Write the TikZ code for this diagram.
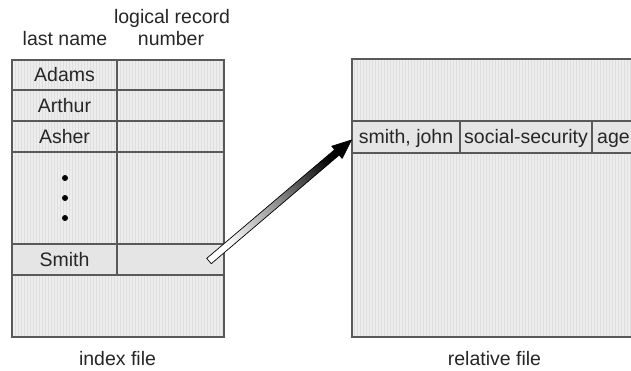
\documentclass[tikz,border=0pt]{standalone}
\usepackage{fontspec}
\setmainfont{Liberation Sans}
\usetikzlibrary{calc,patterns}
\begin{document}
\begin{tikzpicture}[x=1pt,y=-1pt,
  txt/.style={font=\fontsize{19.5}{22}\selectfont, text=black!85, inner sep=0pt},
  cell/.style={txt, draw=black!65, line width=1.1pt, inner sep=0pt,
    text height=13.5pt, text depth=0pt,
    preaction={fill=black!7}, pattern=vertical lines, pattern color=black!13},
  plaincell/.style={cell, pattern=none, fill=black!10},
  dot/.style={circle, fill=black, inner sep=0pt, minimum size=6pt},
  arrowbody/.style={draw=black, line width=0.7pt, top color=black, bottom color=white, middle color=black!45, shading angle=-50}
]
\useasboundingbox (0,0) rectangle (631,370);
\clip (0,0) rectangle (631,370);

% headers
\node[txt, anchor=base] (hname) at (65,45.5) {last name};
\node[txt, anchor=base] (hlog) at (172,23) {logical record};
\node[txt, anchor=base] (hnum) at (171,45.5) {number};

% index file
\node[cell, minimum width=105pt, minimum height=30pt] (adams) at (64.5,75) {Adams};
\node[cell, minimum width=107pt, minimum height=30pt] (adamsr) at (170.5,75) {};
\node[cell, minimum width=105pt, minimum height=31pt] (arthur) at (64.5,105.5) {Arthur};
\node[cell, minimum width=107pt, minimum height=31pt] (arthurr) at (170.5,105.5) {};
\node[cell, minimum width=105pt, minimum height=31pt] (asher) at (64.5,136.5) {Asher};
\node[cell, minimum width=107pt, minimum height=31pt] (asherr) at (170.5,136.5) {};
\node[cell, minimum width=105pt, minimum height=92pt] (gap) at (64.5,198) {};
\node[cell, minimum width=107pt, minimum height=92pt] (gapr) at (170.5,198) {};
\node[plaincell, minimum width=105pt, minimum height=31pt] (smith) at (64.5,259.5) {Smith};
\node[plaincell, minimum width=107pt, minimum height=31pt] (smithr) at (170.5,259.5) {};
\node[cell, minimum width=212pt, minimum height=62pt] (rest) at (118,306) {};
\node[dot] (d1) at (65,178) {};
\node[dot] (d2) at (65,198) {};
\node[dot] (d3) at (65,218) {};
\node[txt, anchor=base] (ilabel) at (117.5,365) {index file};

% relative file
\node[cell, minimum width=308pt, minimum height=62pt] (rtop) at (506,90) {};
\node[plaincell, minimum width=108pt, minimum height=32pt] (rec1) at (406,137) {smith, john};
\node[plaincell, minimum width=132pt, minimum height=32pt] (rec2) at (526,137) {social-security};
\node[plaincell, minimum width=68pt, minimum height=32pt] (rec3) at (626,137) {};
\node[txt, anchor=base west] (age) at (597,143.5) {age};
\node[cell, minimum width=308pt, minimum height=184pt] (rbot) at (506,245) {};
\node[txt, anchor=base] (rlabel) at (494.5,365) {relative file};

% arrow
\coordinate (tail) at (209,261);
\coordinate (tip) at ($(rec1.west)+(0,3)$);
\coordinate (B) at ($(tip)!19pt!(tail)$);
\shade[arrowbody]
  ($(tail)!3.5pt!90:(tip)$) -- ($(B)!3.5pt!90:(tip)$) -- ($(B)!8pt!90:(tip)$)
  -- (tip) -- ($(B)!8pt!-90:(tip)$) -- ($(B)!3.5pt!-90:(tip)$)
  -- ($(tail)!3.5pt!-90:(tip)$) -- cycle;
\end{tikzpicture}
\end{document}
